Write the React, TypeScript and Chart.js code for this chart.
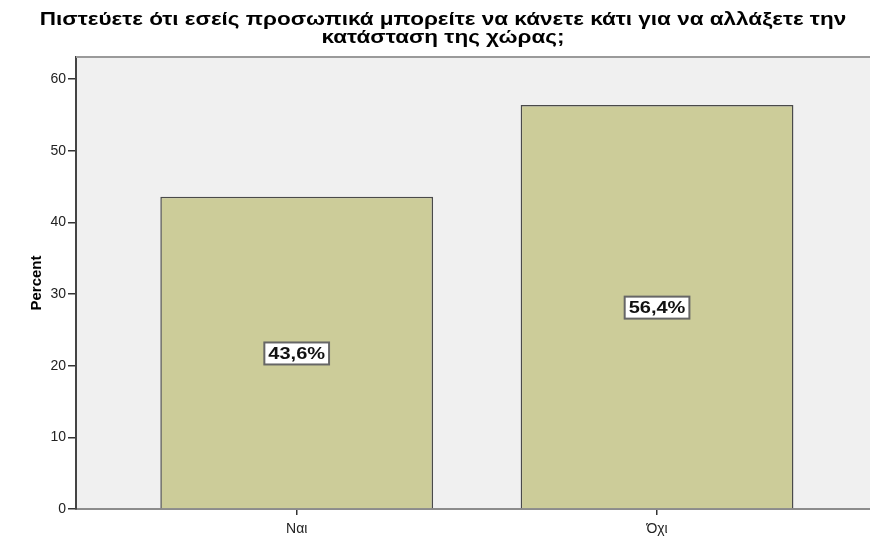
import React, { useEffect, useRef } from "react";
import { Chart, registerables } from "chart.js";

Chart.register(...registerables);

const titleLines = [
  "Πιστεύετε ότι εσείς προσωπικά μπορείτε να κάνετε κάτι για να αλλάξετε την",
  "κατάσταση της χώρας;",
];
const categories = ["Ναι", "Όχι"];
const percents = [43.6, 56.4];
const valueLabels = ["43,6%", "56,4%"];
const yTicks = [0, 10, 20, 30, 40, 50, 60];
const yAxisTitle = "Percent";

const FONT = "'Liberation Sans', Arial, sans-serif";

const plotBg = {
  id: "plotBg",
  beforeDraw(chart: any) {
    const { ctx, chartArea } = chart;
    ctx.save();
    ctx.fillStyle = "#f0f0f0";
    ctx.fillRect(chartArea.left, chartArea.top, chartArea.right - chartArea.left, chartArea.bottom - chartArea.top);
    ctx.restore();
  },
  afterDraw(chart: any) {
    const { ctx, chartArea } = chart;
    ctx.save();
    ctx.strokeStyle = "#9a9a9a";
    ctx.lineWidth = 2;
    ctx.beginPath();
    ctx.moveTo(chartArea.left, chartArea.top);
    ctx.lineTo(chartArea.right, chartArea.top);
    ctx.stroke();
    // title, stretched horizontally like the original rendering
    ctx.fillStyle = "#000";
    ctx.font = `bold 18px ${FONT}`;
    ctx.textAlign = "center";
    ctx.textBaseline = "middle";
    const ys = [20, 38];
    titleLines.forEach((line, i) => {
      ctx.save();
      ctx.translate(443, ys[i]);
      ctx.scale(1.25, 1);
      ctx.fillText(line, 0, 0);
      ctx.restore();
    });
    ctx.restore();
  },
};

const boxLabels = {
  id: "boxLabels",
  afterDatasetsDraw(chart: any) {
    const { ctx } = chart;
    const meta = chart.getDatasetMeta(0);
    ctx.save();
    ctx.font = `bold 16px ${FONT}`;
    ctx.textAlign = "center";
    ctx.textBaseline = "middle";
    meta.data.forEach((el: any, i: number) => {
      const txt = valueLabels[i];
      const cx = el.x;
      const cy = (el.y + el.base) / 2;
      const w = ctx.measureText(txt).width * 1.25 + 8;
      const h = 22;
      ctx.fillStyle = "#ffffff";
      ctx.fillRect(cx - w / 2, cy - h / 2 + 1, w, h);
      ctx.strokeStyle = "#666666";
      ctx.lineWidth = 2;
      ctx.strokeRect(cx - w / 2, cy - h / 2 + 1, w, h);
      ctx.fillStyle = "#111111";
      ctx.save();
      ctx.translate(cx, cy + 2);
      ctx.scale(1.25, 1);
      ctx.fillText(txt, 0, 0);
      ctx.restore();
    });
    ctx.restore();
  },
};

export default function App() {
  const ref = useRef<HTMLCanvasElement | null>(null);
  useEffect(() => {
    if (!ref.current) return;
    const chart = new Chart(ref.current, {
      type: "bar",
      data: {
        datasets: [
          {
            data: categories.map((_, i) => ({ x: i, y: percents[i] })),
            backgroundColor: "#cccc99",
            borderColor: "#4a4a4a",
            borderWidth: 1.5,
            categoryPercentage: 1,
            barPercentage: 0.757,
          },
        ],
      },
      plugins: [plotBg, boxLabels],
      options: {
        animation: false,
        responsive: true,
        maintainAspectRatio: false,
        layout: { padding: { top: 57, left: 0, right: 0, bottom: 0 } },
        plugins: {
          legend: { display: false },
          tooltip: { enabled: false },
          title: { display: false },
        },
        scales: {
          x: {
            type: "linear",
            offset: false,
            min: -0.6125,
            max: 1.591,
            afterBuildTicks: (s: any) => {
              s.ticks = categories.map((_, i) => ({ value: i }));
            },
            afterFit: (s: any) => {
              s.height = 28;
            },
            ticks: {
              callback: (v: any) => categories[Math.round(Number(v))],
              color: "#222",
              font: { family: FONT, size: 14 },
              padding: 6,
              maxRotation: 0,
              autoSkip: false,
            },
            grid: { offset: false, drawOnChartArea: false, tickLength: 6, color: "#333", lineWidth: 1.5 },
            border: { color: "#8c8c8c", width: 2 },
          },
          y: {
            min: 0,
            max: 63.1,
            afterBuildTicks: (s: any) => {
              s.ticks = yTicks.map((v) => ({ value: v }));
            },
            afterFit: (s: any) => {
              s.width = 76;
            },
            ticks: {
              color: "#222",
              font: { family: FONT, size: 14 },
              padding: 2,
            },
            grid: { drawOnChartArea: false, tickLength: 8, color: "#333", lineWidth: 1.5 },
            border: { color: "#444", width: 2 },
            title: {
              display: true,
              text: yAxisTitle,
              color: "#000",
              font: { family: FONT, size: 15, weight: "bold" },
              padding: { top: 28, bottom: 0 },
            },
          },
        },
      },
    });
    return () => chart.destroy();
  }, []);
  return (
    <div style={{ position: "absolute", left: 0, top: 0, width: 870, height: 537, background: "#fff" }}>
      <canvas ref={ref} />
    </div>
  );
}
